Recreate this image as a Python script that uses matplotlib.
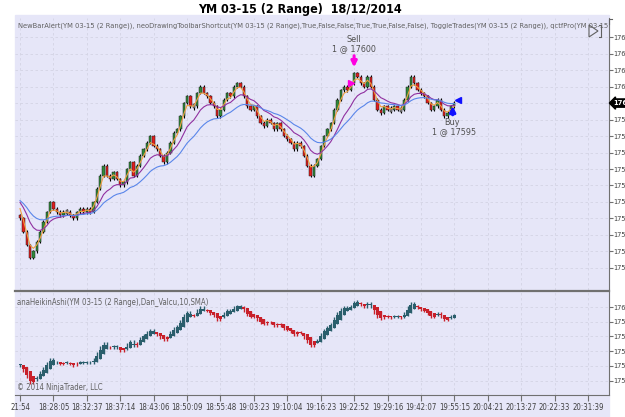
import matplotlib
matplotlib.use("Agg")
import matplotlib.pyplot as plt
import matplotlib.transforms as mtransforms
from matplotlib.patches import Rectangle, Polygon
from matplotlib.lines import Line2D
from matplotlib import font_manager

# ---- data ----
closes = [17565, 17561, 17557, 17553, 17555, 17558, 17561, 17564, 17567, 17570,
          17568, 17567, 17566, 17567, 17567, 17566, 17565, 17567, 17568, 17567,
          17568, 17567, 17570, 17574, 17578, 17581, 17578, 17577, 17579, 17577,
          17575, 17576, 17580, 17582, 17578, 17581, 17584, 17586, 17588, 17590,
          17587, 17586, 17584, 17582, 17585, 17588, 17591, 17592, 17596, 17600,
          17602, 17599, 17599, 17603, 17605, 17603, 17602, 17600, 17599, 17596,
          17598, 17601, 17603, 17602, 17605, 17606, 17605, 17602, 17599, 17598,
          17599, 17596, 17594, 17593, 17595, 17594, 17592, 17594, 17592, 17590,
          17589, 17588, 17586, 17588, 17587, 17584, 17581, 17578, 17581, 17583,
          17587, 17590, 17592, 17594, 17598, 17601, 17604, 17605, 17604, 17606,
          17609, 17608, 17606, 17605, 17608, 17605, 17601, 17598, 17597, 17599,
          17598, 17598, 17599, 17598, 17598, 17601, 17605, 17608, 17606, 17604,
          17603, 17602, 17600, 17598, 17599, 17601, 17598, 17596, 17597, 17599,
          17600]
ma_seed = 17571          # where the averages start on the left edge
time_labels = ["21:54", "18:28:05", "18:32:37", "18:37:14", "18:43:06", "18:50:09",
               "18:55:48", "19:03:23", "19:10:04", "19:16:23", "19:22:52", "19:29:16",
               "19:42:07", "19:55:15", "20:04:21", "20:13:27", "20:22:33", "20:31:39"]
main_ticks = [17550, 17555, 17560, 17565, 17570, 17575, 17580, 17585,
              17590, 17595, 17600, 17605, 17610, 17615, 17620]
ha_ticks = [17555, 17565, 17575, 17585, 17595, 17605]
sell_bar, sell_price = 100, 17600
buy_bar, buy_price = 130, 17595
last_price = 17600
bar_range = 2

# a narrow sans if one is installed (the chart uses Arial Narrow)
fonts = font_manager.fontManager.ttflist
names = {f.name for f in fonts}
if "Liberation Sans Narrow" in names:
    plt.rcParams["font.family"] = ["Liberation Sans Narrow", "DejaVu Sans"]
elif any(f.name == "DejaVu Sans" and "Condensed" in f.fname for f in fonts):
    plt.rcParams["font.family"] = ["DejaVu Sans"]
    plt.rcParams["font.stretch"] = "condensed"
else:
    plt.rcParams["font.family"] = ["Liberation Sans", "DejaVu Sans"]

W, H = 625, 417


def rect(x0, y0, x1, y1):
    return [x0 / W, 1 - y1 / H, (x1 - x0) / W, (y1 - y0) / H]


# bars
opens = [closes[0] + 1] + closes[:-1]
highs, lows = [], []
for o, c in zip(opens, closes):
    top, bot = max(o, c), min(o, c)
    extra = max(bar_range - (top - bot), 0.8) / 2
    highs.append(top + extra)
    lows.append(bot - extra)


def ema(vals, span, seed):
    a = 2 / (span + 1)
    out, v = [], seed
    for x in vals:
        v = v + a * (x - v)
        out.append(v)
    return out


ha_c = [(o + h + l + c) / 4 for o, h, l, c in zip(opens, highs, lows, closes)]
ha_o = [(opens[0] + closes[0]) / 2]
for i in range(1, len(closes)):
    ha_o.append((ha_o[-1] + ha_c[i - 1]) / 2)
ha_h = [max(h, o, c) for h, o, c in zip(highs, ha_o, ha_c)]
ha_l = [min(l, o, c) for l, o, c in zip(lows, ha_o, ha_c)]

fig = plt.figure(figsize=(6.25, 4.17), dpi=100)
fig.patches.append(Rectangle((15 / W, 0), (609 - 15) / W, (417 - 15) / H,
                             transform=fig.transFigure, color="#e6e6f8", zorder=-5))

ax1 = fig.add_axes(rect(15, 18, 609, 290))
ax2 = fig.add_axes(rect(15, 291, 609, 395))
xs = list(range(len(closes)))
xticks = list(range(0, 180, 10))

for ax in (ax1, ax2):
    ax.set_facecolor("none")
    ax.set_xlim(-1.5, 176.3)
    ax.set_xticks(xticks)
    ax.yaxis.tick_right()
    ax.grid(True, color="#d4d4e4", lw=0.6, ls=(0, (3, 3)))
    ax.set_axisbelow(True)
    for s in ("left", "top", "bottom"):
        ax.spines[s].set_visible(False)
    ax.spines["right"].set_color("#707070")
    ax.tick_params(axis="y", direction="out", length=3, width=0.8, color="#707070",
                   labelsize=5.2, labelcolor="#404040", pad=0.4)

ax1.set_ylim(17543.3, 17625.8)
ax1.set_yticks(main_ticks)
# the last-price tag sits where the 17600 label would be
ax1.set_yticklabels(["" if t == last_price else str(t) for t in main_ticks])
ax1.tick_params(axis="x", length=0, labelbottom=False)

# candles
for i, o, c, h, l in zip(xs, opens, closes, highs, lows):
    ax1.vlines(i, l, h, color="black", lw=0.8, zorder=3)
    if c > o:
        col = "#2f8a3a"
    elif c < o:
        col = "#e41c1c"
    else:
        col = "#8c8c8c"
    b = min(o, c) if c != o else c - 0.6
    hgt = abs(c - o) if c != o else 1.2
    ax1.bar(i, hgt, bottom=b, width=0.7, color=col, edgecolor="#202020", lw=0.35, zorder=4)

ax1.plot(xs, ema(closes, 3, ma_seed), color="#f0a040", lw=0.8, zorder=5)
ax1.plot(xs, ema(closes, 10, ma_seed), color="#9030a0", lw=0.8, zorder=5)
ax1.plot(xs, ema(closes, 20, ma_seed), color="#5a86ea", lw=0.8, zorder=5)

# trades
ax1.annotate("", xy=(sell_bar, 17610.0), xytext=(sell_bar, 17615.2),
             arrowprops=dict(arrowstyle="-|>", color="#ff00e0", lw=2.2, mutation_scale=8), zorder=6)
ax1.text(sell_bar, 17619.3, "Sell", ha="center", va="center", fontsize=6.5, color="#505050")
ax1.text(sell_bar, 17616.6, f"1 @ {sell_price}", ha="center", va="center", fontsize=6.5,
         color="#505050")
ax1.plot(sell_bar - 0.8, 17606, marker=">", color="#ff00e0", ms=4, zorder=6)
ax1.annotate("", xy=(buy_bar - 0.5, 17600.0), xytext=(buy_bar - 0.5, 17595.6),
             arrowprops=dict(arrowstyle="-|>", color="#1010ff", lw=2.2, mutation_scale=8), zorder=6)
ax1.text(buy_bar - 0.8, 17594.0, "Buy", ha="center", va="center", fontsize=6.5, color="#505050")
ax1.text(buy_bar, 17591.3, f"1 @ {buy_price}", ha="center", va="center", fontsize=6.5,
         color="#505050")
ax1.plot(buy_bar + 1.0, 17601, marker="<", color="#1010ff", ms=4.5, zorder=6)

trans = mtransforms.blended_transform_factory(ax1.transAxes, ax1.transData)
ax1.text(1.008, last_price, str(last_price), transform=trans, ha="left", va="center",
         fontsize=5.4, color="white", weight="bold", clip_on=False, zorder=7,
         bbox=dict(boxstyle="larrow,pad=0.15", fc="black", ec="black"))

ax1.text(0.005, 0.985, "NewBarAlert(YM 03-15 (2 Range)), neoDrawingToolbarShortcut(YM 03-15 (2 Range),"
         "True,False,False,True,True,False,False), ToggleTrades(YM 03-15 (2 Range)), "
         "qctfPro(YM 03-15 (2 Range))", transform=ax1.transAxes, ha="left", va="top",
         fontsize=5.4, color="#606060", clip_on=True)

# heikin ashi panel
ax2.set_ylim(17545.2, 17615.9)
ax2.set_yticks(ha_ticks)
ax2.spines["top"].set_visible(True)
ax2.spines["top"].set_color("#707070")
ax2.spines["top"].set_linewidth(1.6)
ax2.spines["bottom"].set_visible(True)
ax2.spines["bottom"].set_color("#707070")
ax2.set_xticklabels(time_labels)
ax2.tick_params(axis="x", direction="out", length=4, width=0.8, color="#707070",
                labelsize=5.6, labelcolor="#404040", pad=1.5)
for i, o, c, h, l in zip(xs, ha_o, ha_c, ha_h, ha_l):
    col = "#2a5e6c" if c >= o else "#c8202a"
    ax2.vlines(i, l, h, color=col, lw=1.0, zorder=3)
    ax2.bar(i, max(abs(c - o), 0.6), bottom=min(o, c), width=0.9, color=col, lw=0, zorder=4)
ax2.text(0.004, 0.93, "anaHeikinAshi(YM 03-15 (2 Range),Dan_Valcu,10,SMA)",
         transform=ax2.transAxes, ha="left", va="top", fontsize=5.6, color="#606060")
ax2.text(0.004, 0.03, "\u00a9 2014 NinjaTrader, LLC", transform=ax2.transAxes,
         ha="left", va="bottom", fontsize=5.6, color="#606060")

fig.text(300 / W, 1 - 9 / H, "YM 03-15 (2 Range)  18/12/2014", ha="center", va="center",
         fontsize=9, weight="bold", color="black")

# little toolbar glyph at the top right
tri = Polygon([(589 / W, 1 - 25 / H), (589 / W, 1 - 37 / H), (598 / W, 1 - 31 / H)],
              closed=True, fill=False, ec="#606060", lw=0.8, transform=fig.transFigure)
fig.patches.append(tri)
fig.lines.append(Line2D([599 / W, 601 / W, 601 / W, 599 / W],
                        [1 - 25 / H, 1 - 25 / H, 1 - 37 / H, 1 - 37 / H],
                        color="#606060", lw=0.8, transform=fig.transFigure))
fig.lines.append(Line2D([612 / W, 609 / W, 609 / W], [1 - 19 / H, 1 - 19 / H, 1 - 24 / H],
                        color="#606060", lw=0.8, transform=fig.transFigure))

fig.savefig("out.png", dpi=100)
